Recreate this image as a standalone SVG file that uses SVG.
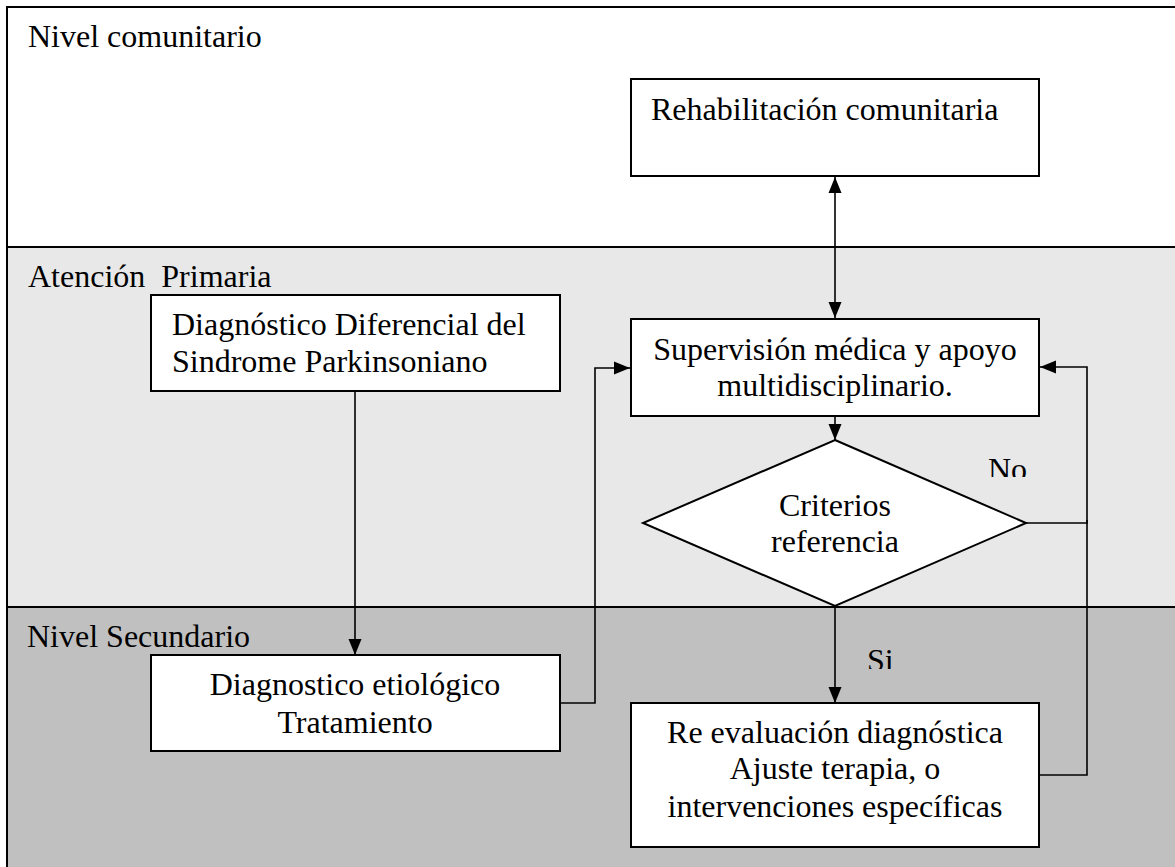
<svg xmlns="http://www.w3.org/2000/svg" width="1175" height="867" viewBox="0 0 1175 867">
<style>
text{font-family:"Liberation Serif","Times New Roman",serif;font-size:32px;fill:#000}
.c{text-anchor:middle}
.box{fill:#fff;stroke:#000;stroke-width:2}
.lane{stroke:#000;stroke-width:2}
.con{fill:none;stroke:#000;stroke-width:1.6}
</style>
<defs>
<marker id="ah" markerUnits="userSpaceOnUse" markerWidth="16" markerHeight="14" refX="16" refY="7" orient="auto-start-reverse" viewBox="0 0 16 14">
<path d="M0,0.5 L16,7 L0,13.5 z" fill="#000"/>
</marker>
<clipPath id="clipNo"><rect x="950" y="440" width="100" height="37"/></clipPath>
<clipPath id="clipSi"><rect x="850" y="630" width="60" height="39"/></clipPath>
</defs>
<g id="lanes">
<rect x="7" y="7" width="1180" height="240" fill="#fff" class="lane"/>
<rect x="7" y="247" width="1180" height="360" fill="#e8e8e8" class="lane"/>
<rect x="7" y="607" width="1180" height="280" fill="#c0c0c0" class="lane"/>
<text x="28" y="47">Nivel comunitario</text>
<text x="28" y="287" xml:space="preserve">Atención  Primaria</text>
<text x="27" y="647">Nivel Secundario</text>
</g>
<g id="connectors">
<line x1="835" y1="177" x2="835" y2="318" class="con" stroke-width="2" marker-start="url(#ah)" marker-end="url(#ah)"/>
<line x1="835" y1="416" x2="835" y2="440" class="con" marker-end="url(#ah)"/>
<line x1="355" y1="391" x2="355" y2="655" class="con" marker-end="url(#ah)"/>
<path d="M560,703 H595 V368 H630" class="con" marker-end="url(#ah)"/>
<path d="M1026,523 H1087 V367 H1040" class="con" marker-end="url(#ah)"/>
<path d="M1039,775 H1087 V520" class="con"/>
<line x1="835" y1="606" x2="835" y2="703" class="con" stroke-width="2" marker-end="url(#ah)"/>
<text x="988" y="480" clip-path="url(#clipNo)">No</text>
<text x="867" y="671" clip-path="url(#clipSi)">Si</text>
</g>
<g id="rehab">
<rect x="631" y="79" width="408" height="97" class="box"/>
<text x="651" y="120">Rehabilitación comunitaria</text>
</g>
<g id="diferencial">
<rect x="151" y="295" width="409" height="96" class="box"/>
<text x="172" y="335">Diagnóstico Diferencial del</text>
<text x="172" y="372">Sindrome Parkinsoniano</text>
</g>
<g id="supervision">
<rect x="631" y="319" width="408" height="97" class="box"/>
<text x="835" y="360" class="c">Supervisión médica y apoyo</text>
<text x="835" y="396" class="c">multidisciplinario.</text>
</g>
<g id="criterios">
<polygon points="835,440 1026,523 835,606 643,523" fill="#fff" stroke="#000" stroke-width="2"/>
<text x="835" y="516" class="c">Criterios</text>
<text x="835" y="552" class="c">referencia</text>
</g>
<g id="etiologico">
<rect x="151" y="655" width="409" height="96" class="box"/>
<text x="355" y="695" class="c">Diagnostico etiológico</text>
<text x="355" y="733" class="c">Tratamiento</text>
</g>
<g id="reevaluacion">
<rect x="631" y="703" width="408" height="144" class="box"/>
<text x="835" y="743" class="c">Re evaluación diagnóstica</text>
<text x="835" y="779" class="c">Ajuste terapia, o</text>
<text x="835" y="817" class="c">intervenciones específicas</text>
</g>
</svg>
